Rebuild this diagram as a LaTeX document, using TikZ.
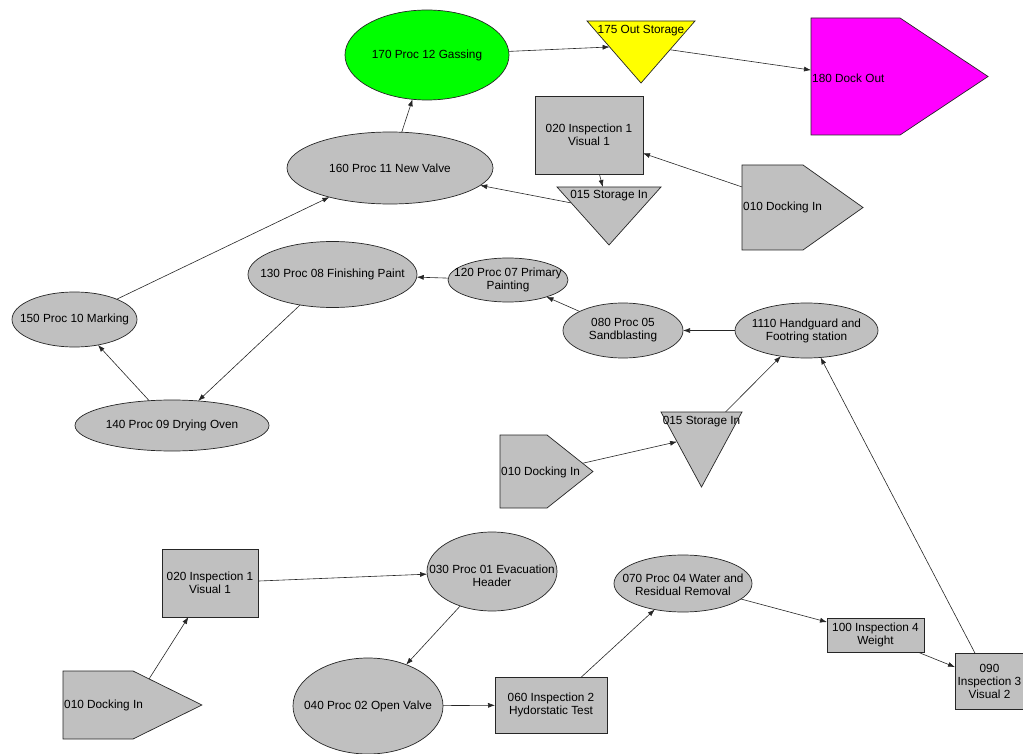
\documentclass[tikz,border=0pt]{standalone}
\usepackage{fontspec}
\setmainfont{Liberation Sans}
\usetikzlibrary{shapes.geometric,shapes.symbols,arrows.meta,calc,backgrounds}
\definecolor{shapegrey}{HTML}{C0C0C0}
\definecolor{gasgreen}{HTML}{00FF00}
\definecolor{outyellow}{HTML}{FFFF00}
\definecolor{dockmagenta}{HTML}{FF00FF}
\begin{document}
\begin{tikzpicture}[x=1pt,y=-1pt,
  every node/.style={font=\fontsize{11.8}{13}\selectfont},
  outline/.style={draw=black!85, line width=0.7pt, fill=shapegrey},
  proc/.style={outline, ellipse, inner sep=0pt, outer sep=0pt},
  insp/.style={outline, rectangle, inner sep=1pt, outer sep=0pt, align=center},
  store/.style={outline, isosceles triangle, isosceles triangle stretches,
    rotate=-90, inner sep=0pt, outer sep=0pt, anchor=apex},
  dock/.style={outline, signal, signal to=east, signal from=nowhere,
    minimum width=0pt, minimum height=0pt, outer sep=0pt},
  txt/.style={inner sep=0pt, align=center},
  flow/.style={draw=black!85, line width=0.6pt, -{Latex[length=7pt,width=5pt]}}
]
\useasboundingbox (0,0) rectangle (1023,754);

% ---------- process ellipses ----------
\node[proc, fill=gasgreen, minimum width=164pt, minimum height=90pt] (p170) at (427,55) {};
\node[proc, minimum width=206pt, minimum height=72pt] (p160) at (390,168) {};
\node[proc, minimum width=125pt, minimum height=55pt] (p150) at (74.5,319.5) {};
\node[proc, minimum width=194pt, minimum height=51pt] (p140) at (172,425.5) {};
\node[proc, minimum width=169pt, minimum height=66pt] (p130) at (332.5,274.5) {};
\node[proc, minimum width=120pt, minimum height=44pt] (p120) at (508,280) {};
\node[proc, minimum width=120pt, minimum height=55pt] (p080) at (623,330.5) {};
\node[proc, minimum width=143pt, minimum height=55pt] (p1110) at (806.5,330.5) {};
\node[proc, minimum width=130pt, minimum height=79pt] (p030) at (492,571.5) {};
\node[proc, minimum width=150pt, minimum height=96pt] (p040) at (368,706) {};
\node[proc, minimum width=138pt, minimum height=57pt] (p070) at (683,583.5) {};

% ---------- inspection boxes ----------
\node[insp, minimum width=108pt, minimum height=78pt] (i020a) at (589,135) {020 Inspection 1\\Visual 1};
\node[insp, minimum width=96pt, minimum height=68pt] (i020b) at (210,583) {020 Inspection 1\\Visual 1};
\node[insp, minimum width=112pt, minimum height=56pt] (i060) at (551,705) {060 Inspection 2\\Hydorstatic Test};
\node[insp, minimum width=97pt, minimum height=34pt] (i100) at (875.5,635) {100 Inspection 4\\Weight};
\node[insp, inner sep=0pt, minimum width=69pt, minimum height=56pt] (i090) at (989.5,681) {090\\Inspection 3\\Visual 2};

% ---------- storage triangles (apex down) ----------
\node[store, fill=outyellow, minimum width=108pt, minimum height=62pt] (s175) at (641,83) {};
\node[store, minimum width=104pt, minimum height=58pt] (s015a) at (609,245) {};
\node[store, minimum width=81pt, minimum height=75pt] (s015b) at (701.5,487) {};

% ---------- docking pentagons ----------
\node[dock, fill=dockmagenta, inner xsep=44.5pt, inner ysep=58.5pt, signal pointer angle=67.2] (d180) at (855.5,76.5) {};
\node[dock, inner xsep=30.5pt, inner ysep=42.5pt, signal pointer angle=70.6] (d010a) at (772.5,207.5) {};
\node[dock, inner xsep=23.5pt, inner ysep=36.5pt, signal pointer angle=76.9] (d010b) at (523.5,471.5) {};
\node[dock, inner xsep=35pt, inner ysep=34pt, signal pointer angle=52.5] (d010c) at (98,705) {};

% centres of the docking outlines, pointer included
\coordinate (d010a-c) at ($(d010a.center)+(30,0)$);
\coordinate (d010b-c) at ($(d010b.center)+(23,0)$);
\coordinate (d010c-c) at ($(d010c.center)+(34.5,0)$);

% ---------- labels ----------
\node[txt] (p170-t) at (p170) {170 Proc 12 Gassing};
\node[txt] (p160-t) at (p160) {160 Proc 11 New Valve};
\node[txt] (p150-t) at (p150) {150 Proc 10 Marking};
\node[txt] (p140-t) at (p140) {140 Proc 09 Drying Oven};
\node[txt] (p130-t) at (p130) {130 Proc 08 Finishing Paint};
\node[txt] (p120-t) at (p120) {120 Proc 07 Primary\\Painting};
\node[txt] (p080-t) at (p080) {080 Proc 05\\Sandblasting};
\node[txt] (p1110-t) at (p1110) {1110 Handguard and\\Footring station};
\node[txt] (p030-t) at ($(p030)+(0,4)$) {030 Proc 01 Evacuation\\Header};
\node[txt] (p040-t) at (p040) {040 Proc 02 Open Valve};
\node[txt] (p070-t) at ($(p070)+(0,1.5)$) {070 Proc 04 Water and\\Residual Removal};

\node[txt] (s175-t) at (641,31) {175 Out Storage};
\node[txt] (s015a-t) at (609,196) {015 Storage In};
\node[txt] (s015b-t) at (701.5,422) {015 Storage In};

\node[txt, anchor=west] (d180-t) at (812,78) {180 Dock Out};
\node[txt, anchor=west] (d010a-t) at (743,207) {010 Docking In};
\node[txt, anchor=west] (d010b-t) at (501,472) {010 Docking In};
\node[txt, anchor=west] (d010c-t) at (64,705) {010 Docking In};

% ---------- flow connectors ----------
\begin{scope}[on background layer]
  \draw[flow] (p170) -- (s175);
  \draw[flow] (s175) -- (d180);
  \draw[flow] (d010a-c) -- (i020a);
  \draw[flow] (i020a) -- (s015a);
  \draw[flow] (s015a) -- (p160);
  \draw[flow] (p160) -- (p170);
  \draw[flow] (p150) -- (p160);
  \draw[flow] (p140) -- (p150);
  \draw[flow] (p130) -- (p140);
  \draw[flow] (p120) -- (p130);
  \draw[flow] (p080) -- (p120);
  \draw[flow] (p1110) -- (p080);
  \draw[flow] (s015b) -- (p1110);
  \draw[flow] (d010b-c) -- (s015b);
  \draw[flow] (d010c-c) -- (i020b);
  \draw[flow] (i020b) -- (p030);
  \draw[flow] (p030) -- (p040);
  \draw[flow] (p040) -- (i060);
  \draw[flow] (i060) -- (p070);
  \draw[flow] (p070) -- (i100);
  \draw[flow] (i100) -- (i090);
  \draw[flow] (i090) -- (p1110);
\end{scope}
\end{tikzpicture}
\end{document}
